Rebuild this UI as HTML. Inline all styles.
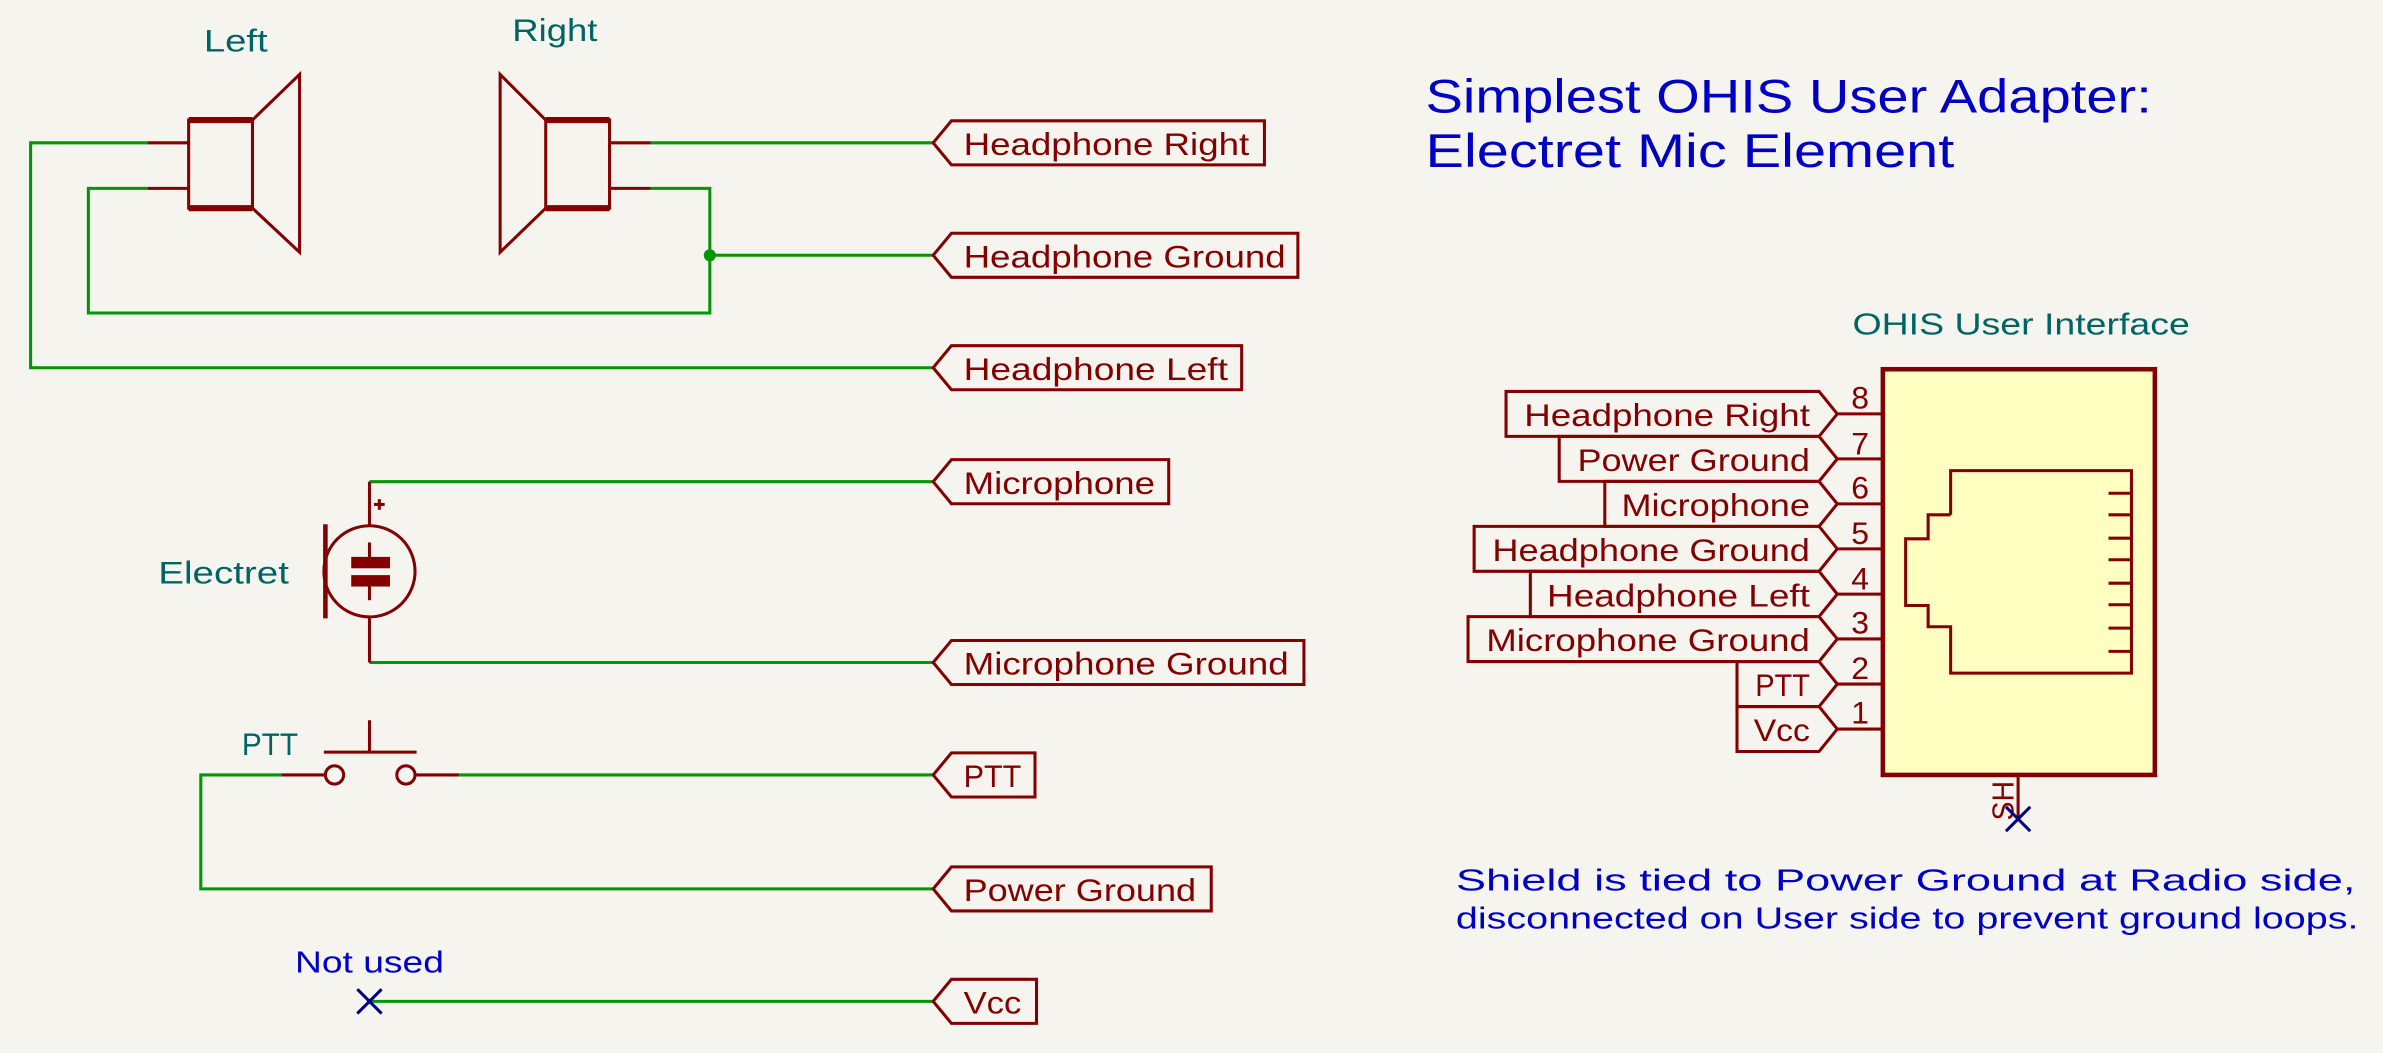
<!DOCTYPE html>
<html><head><meta charset="utf-8"><title>Simplest OHIS User Adapter</title>
<style>
html,body{margin:0;padding:0;background:#f5f4ef;}
svg{display:block;}
text{font-family:"Liberation Sans","DejaVu Sans",sans-serif;}
</style></head>
<body>
<svg width="2383" height="1053" viewBox="0 0 1568 693" xmlns="http://www.w3.org/2000/svg">
<rect x="0" y="0" width="1568" height="693" fill="#f5f4ef"/>

<!-- Title -->
<g fill="#0000c4" font-size="31">
<text x="938" y="74" textLength="478" lengthAdjust="spacingAndGlyphs">Simplest OHIS User Adapter:</text>
<text x="938" y="110" textLength="348" lengthAdjust="spacingAndGlyphs">Electret Mic Element</text>
</g>

<!-- Wires -->
<g stroke="#009600" stroke-width="2" fill="none">
<polyline points="97,94 20,94 20,242 614,242"/>
<polyline points="97,124 58,124 58,206 467,206 467,124 428,124"/>
<line x1="428" y1="94" x2="614" y2="94"/>
<line x1="467" y1="168" x2="614" y2="168"/>
<polyline points="243,317 614,317"/>
<polyline points="243,436 614,436"/>
<line x1="302" y1="510" x2="614" y2="510"/>
<polyline points="185,510 132,510 132,585 614,585"/>
<line x1="243" y1="659" x2="614" y2="659"/>
</g>
<circle cx="467" cy="168" r="4" fill="#009600"/>

<!-- Left speaker -->
<g stroke="#840000" stroke-width="2" fill="none">
<rect x="124" y="79" width="42" height="58"/>
<line x1="124" y1="79" x2="166" y2="79" stroke-width="4"/>
<line x1="124" y1="137" x2="166" y2="137" stroke-width="4"/>
<polyline points="166,79 197,49 197,166 166,137"/>
<line x1="97" y1="94" x2="124" y2="94"/>
<line x1="97" y1="124" x2="124" y2="124"/>
</g>
<text x="134" y="34" font-size="21" fill="#006464" textLength="42" lengthAdjust="spacingAndGlyphs">Left</text>

<!-- Right speaker -->
<g stroke="#840000" stroke-width="2" fill="none">
<rect x="359" y="79" width="42" height="58"/>
<line x1="359" y1="79" x2="401" y2="79" stroke-width="4"/>
<line x1="359" y1="137" x2="401" y2="137" stroke-width="4"/>
<polyline points="359,79 329,49 329,166 359,137"/>
<line x1="401" y1="94" x2="428" y2="94"/>
<line x1="401" y1="124" x2="428" y2="124"/>
</g>
<text x="337" y="27" font-size="21" fill="#006464" textLength="56" lengthAdjust="spacingAndGlyphs">Right</text>

<!-- Electret mic -->
<g stroke="#840000" stroke-width="2" fill="none">
<circle cx="243" cy="376" r="30"/>
<line x1="214" y1="345" x2="214" y2="407" stroke-width="3"/>
<line x1="243" y1="317" x2="243" y2="346"/>
<line x1="243" y1="406" x2="243" y2="436"/>
<line x1="243" y1="357" x2="243" y2="367"/>
<line x1="243" y1="385" x2="243" y2="395"/>
<line x1="246" y1="332" x2="253" y2="332"/>
<line x1="249.5" y1="328.5" x2="249.5" y2="335.5"/>
</g>
<rect x="231" y="366.5" width="25.5" height="7.5" fill="#840000"/>
<rect x="231" y="378.5" width="25.5" height="7.5" fill="#840000"/>
<text x="104" y="384" font-size="21" fill="#006464" textLength="86" lengthAdjust="spacingAndGlyphs">Electret</text>

<!-- PTT switch -->
<g stroke="#840000" stroke-width="2" fill="none">
<circle cx="220" cy="510" r="6"/>
<circle cx="267" cy="510" r="6"/>
<line x1="185" y1="510" x2="214" y2="510"/>
<line x1="273" y1="510" x2="302" y2="510"/>
<line x1="213" y1="495" x2="274" y2="495"/>
<line x1="243" y1="474" x2="243" y2="495"/>
</g>
<text x="159" y="497" font-size="21" fill="#006464" textLength="37" lengthAdjust="spacingAndGlyphs">PTT</text>

<!-- Not used -->
<g stroke="#000080" stroke-width="2">
<line x1="235" y1="651" x2="251" y2="667"/><line x1="251" y1="651" x2="235" y2="667"/>
</g>
<text x="194" y="640" font-size="20" fill="#0000c4" textLength="98" lengthAdjust="spacingAndGlyphs">Not used</text>

<!-- Global labels left -->
<g stroke="#840000" stroke-width="2" fill="none">
<polygon points="614,94 626,79.5 832,79.5 832,108.5 626,108.5"/>
<polygon points="614,168 626,153.5 854,153.5 854,182.5 626,182.5"/>
<polygon points="614,242 626,227.5 817,227.5 817,256.5 626,256.5"/>
<polygon points="614,317 626,302.5 769,302.5 769,331.5 626,331.5"/>
<polygon points="614,436 626,421.5 858,421.5 858,450.5 626,450.5"/>
<polygon points="614,510 626,495.5 681,495.5 681,524.5 626,524.5"/>
<polygon points="614,585 626,570.5 797,570.5 797,599.5 626,599.5"/>
<polygon points="614,659 626,644.5 682,644.5 682,673.5 626,673.5"/>
</g>
<g fill="#840000" font-size="21">
<text x="634" y="102" textLength="188" lengthAdjust="spacingAndGlyphs">Headphone Right</text>
<text x="634" y="176" textLength="212" lengthAdjust="spacingAndGlyphs">Headphone Ground</text>
<text x="634" y="250" textLength="174" lengthAdjust="spacingAndGlyphs">Headphone Left</text>
<text x="634" y="325" textLength="126" lengthAdjust="spacingAndGlyphs">Microphone</text>
<text x="634" y="444" textLength="214" lengthAdjust="spacingAndGlyphs">Microphone Ground</text>
<text x="634" y="518" textLength="38" lengthAdjust="spacingAndGlyphs">PTT</text>
<text x="634" y="593" textLength="153" lengthAdjust="spacingAndGlyphs">Power Ground</text>
<text x="634" y="667" textLength="38" lengthAdjust="spacingAndGlyphs">Vcc</text>
</g>

<!-- Connector -->
<text x="1219" y="220" font-size="20" fill="#006464" textLength="222" lengthAdjust="spacingAndGlyphs">OHIS User Interface</text>
<rect x="1239" y="243" width="179" height="267" fill="#ffffc2" stroke="#840000" stroke-width="3"/>
<g stroke="#840000" stroke-width="2" fill="none">
<polyline points="1283.6,338.8 1283.6,309.7 1402.6,309.7 1402.6,443 1283.6,443 1283.6,412.5 1268.8,412.5 1268.8,398.5 1254,398.5 1254,354.6 1268.8,354.6 1268.8,338.8 1283.6,338.8"/>
<line x1="1387.5" y1="324.6" x2="1402.6" y2="324.6"/>
<line x1="1387.5" y1="338.8" x2="1402.6" y2="338.8"/>
<line x1="1387.5" y1="354.2" x2="1402.6" y2="354.2"/>
<line x1="1387.5" y1="368.4" x2="1402.6" y2="368.4"/>
<line x1="1387.5" y1="383.8" x2="1402.6" y2="383.8"/>
<line x1="1387.5" y1="398" x2="1402.6" y2="398"/>
<line x1="1387.5" y1="413.4" x2="1402.6" y2="413.4"/>
<line x1="1387.5" y1="428.7" x2="1402.6" y2="428.7"/>
</g>
<g stroke="#840000" stroke-width="2" fill="none">
<line x1="1209" y1="272.4" x2="1239" y2="272.4"/>
<line x1="1209" y1="302" x2="1239" y2="302"/>
<line x1="1209" y1="331.6" x2="1239" y2="331.6"/>
<line x1="1209" y1="361.2" x2="1239" y2="361.2"/>
<line x1="1209" y1="391" x2="1239" y2="391"/>
<line x1="1209" y1="420.5" x2="1239" y2="420.5"/>
<line x1="1209" y1="450.2" x2="1239" y2="450.2"/>
<line x1="1209" y1="479.8" x2="1239" y2="479.8"/>
<line x1="1328" y1="510" x2="1328" y2="539"/>
</g>
<g fill="#840000" font-size="21" text-anchor="middle">
<text x="1224" y="269">8</text><text x="1224" y="299">7</text><text x="1224" y="328">6</text><text x="1224" y="358">5</text>
<text x="1224" y="388">4</text><text x="1224" y="417">3</text><text x="1224" y="447">2</text><text x="1224" y="476">1</text>
</g>
<text transform="translate(1325,514) rotate(-90)" font-size="20" fill="#840000" text-anchor="end" textLength="26" lengthAdjust="spacingAndGlyphs">SH</text>
<g stroke="#000080" stroke-width="2">
<line x1="1320" y1="531" x2="1336" y2="547"/><line x1="1336" y1="531" x2="1320" y2="547"/>
</g>

<!-- Right side labels -->
<g stroke="#840000" stroke-width="2" fill="none">
<polygon points="1209,272.4 1197,257.6 991,257.6 991,287.2 1197,287.2"/>
<polygon points="1209,302 1197,287.2 1026,287.2 1026,316.8 1197,316.8"/>
<polygon points="1209,331.6 1197,316.8 1056,316.8 1056,346.4 1197,346.4"/>
<polygon points="1209,361.2 1197,346.4 970,346.4 970,376 1197,376"/>
<polygon points="1209,391 1197,376 1007,376 1007,405.8 1197,405.8"/>
<polygon points="1209,420.5 1197,405.8 966,405.8 966,435.4 1197,435.4"/>
<polygon points="1209,450.2 1197,435.4 1143,435.4 1143,465 1197,465"/>
<polygon points="1209,479.8 1197,465 1143,465 1143,494.6 1197,494.6"/>
</g>
<g fill="#840000" font-size="21">
<text x="1003" y="280.5" textLength="188" lengthAdjust="spacingAndGlyphs">Headphone Right</text>
<text x="1038" y="310" textLength="153" lengthAdjust="spacingAndGlyphs">Power Ground</text>
<text x="1067" y="339.6" textLength="124" lengthAdjust="spacingAndGlyphs">Microphone</text>
<text x="982" y="369.2" textLength="209" lengthAdjust="spacingAndGlyphs">Headphone Ground</text>
<text x="1018" y="399" textLength="173" lengthAdjust="spacingAndGlyphs">Headphone Left</text>
<text x="978" y="428.5" textLength="213" lengthAdjust="spacingAndGlyphs">Microphone Ground</text>
<text x="1155" y="458.2" textLength="36" lengthAdjust="spacingAndGlyphs">PTT</text>
<text x="1154" y="487.8" textLength="37" lengthAdjust="spacingAndGlyphs">Vcc</text>
</g>

<!-- Shield note -->
<g fill="#0000c4" font-size="20">
<text x="958" y="586" textLength="592" lengthAdjust="spacingAndGlyphs">Shield is tied to Power Ground at Radio side,</text>
<text x="958" y="611" textLength="594" lengthAdjust="spacingAndGlyphs">disconnected on User side to prevent ground loops.</text>
</g>
</svg>
</body></html>
